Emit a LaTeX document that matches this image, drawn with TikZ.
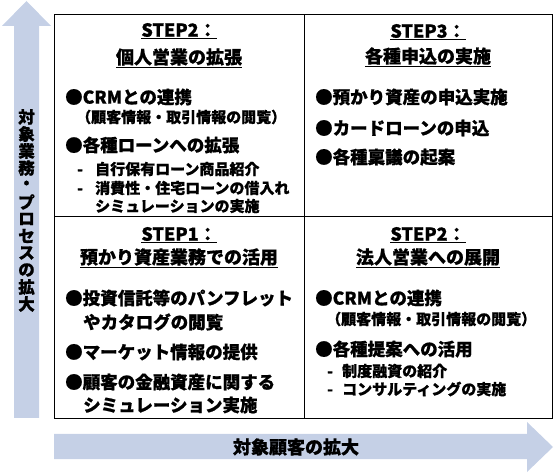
\documentclass[tikz,border=0pt]{standalone}
\usepackage{fontspec}
\setmainfont{Noto Sans CJK JP}[BoldFeatures={FakeBold=0.8}]
\usetikzlibrary{calc}
\definecolor{arrowfill}{RGB}{197,208,230}
\tikzset{
	stephead/.style={font=\fontsize{18}{20}\selectfont\bfseries, inner sep=0pt},
	bulletline/.style={anchor=west, font=\fontsize{17.5}{20}\selectfont\bfseries, inner sep=0pt},
	subline/.style={anchor=west, font=\fontsize{15}{17}\selectfont\bfseries, inner sep=0pt},
	vchar/.style={font=\fontsize{16.5}{17}\selectfont\bfseries, inner sep=0pt},
	axislabel/.style={font=\fontsize{18}{20}\selectfont\bfseries, inner sep=0pt}
}
\newcommand{\dsh}[1]{\makebox[#1][l]{-}}
\begin{document}
\begin{tikzpicture}[x=1pt, y=-1pt] %one unit = one pixel of the reference
			\useasboundingbox (0,0) rectangle (555,473);
			% axis arrows
			\fill[arrowfill] (14,418) -- (14,26) -- (2,26) -- (26.5,1) -- (51,26) -- (39,26) -- (39,418) -- cycle;
			\fill[arrowfill] (54,434) -- (527,434) -- (527,422) -- (553,447) -- (527,472) -- (527,459) -- (54,459) -- cycle;
			\foreach \ch [count=\i] in {対,象,業,務,・,プ,ロ,セ,ス,の,拡,大}
				{\node[vchar] (v\i) at (26.5,{117+17*(\i-1)}) {\ch};};
			\node[axislabel] (xlabel) at (296,447) {対象顧客の拡大};
			% grid
			\draw[line width=1pt] (54,15) rectangle (552,419);
			\draw[line width=1pt] (304,15) -- (304,419);
			\draw[line width=1pt] (54,217) -- (552,217);
			% top left
			\node[stephead] (tlA) at (179,31) {\underline{STEP2：}};
			\node[stephead] (tlB) at (179,58) {\underline{個人営業の拡張}};
			\node[bulletline] (tl1) at (65,97) {●CRMとの連携};
			\node[subline] (tl1a) at (76,117) {（顧客情報・取引情報の閲覧）};
			\node[bulletline] (tl2) at (65,145) {●各種ローンへの拡張};
			\node[subline] (tl2a) at (77,169) {\dsh{18pt}自行保有ローン商品紹介};
			\node[subline] (tl2b) at (77,188) {\dsh{18pt}消費性・住宅ローンの借入れ};
			\node[subline] (tl2c) at (95,206) {シミュレーションの実施};
			% top right
			\node[stephead] (trA) at (428,32) {\underline{STEP3：}};
			\node[stephead] (trB) at (428,57) {\underline{各種申込の実施}};
			\node[bulletline] (tr1) at (315,97) {●預かり資産の申込実施};
			\node[bulletline] (tr2) at (315,128) {●カードローンの申込};
			\node[bulletline] (tr3) at (315,157) {●各種稟議の起案};
			% bottom left
			\node[stephead] (blA) at (179,235) {\underline{STEP1：}};
			\node[stephead] (blB) at (179,258) {\underline{預かり資産業務での活用}};
			\node[bulletline] (bl1) at (65,298) {●投資信託等のパンフレット};
			\node[bulletline] (bl1a) at (83,322) {やカタログの閲覧};
			\node[bulletline] (bl2) at (65,352) {●マーケット情報の提供};
			\node[bulletline] (bl3) at (65,382) {●顧客の金融資産に関する};
			\node[bulletline] (bl3a) at (83,405) {シミュレーション実施};
			% bottom right
			\node[stephead] (brA) at (428,235) {\underline{STEP2：}};
			\node[stephead] (brB) at (428,258) {\underline{法人営業への展開}};
			\node[bulletline] (br1) at (315,298) {●CRMとの連携};
			\node[subline] (br1a) at (326,319) {（顧客情報・取引情報の閲覧）};
			\node[bulletline] (br2) at (315,349) {●各種提案への活用};
			\node[subline] (br2a) at (327,371) {\dsh{15pt}制度融資の紹介};
			\node[subline] (br2b) at (327,389) {\dsh{15pt}コンサルティングの実施};
\end{tikzpicture}
\end{document}
